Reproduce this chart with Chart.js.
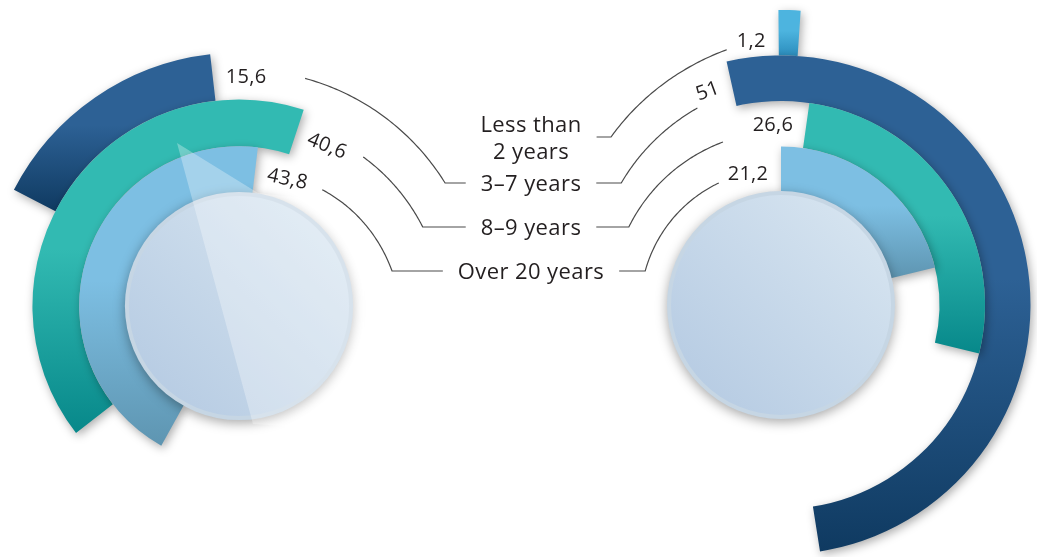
<!DOCTYPE html>
<html>
<head>
<meta charset="utf-8">
<script src="https://cdn.jsdelivr.net/npm/chart.js@4.4.0/dist/chart.umd.min.js"></script>
<style>
html, body { margin: 0; padding: 0; background: #fff; overflow: hidden; }
#wrap { position: relative; width: 1037px; height: 557px; }
#wrap canvas { position: absolute; left: 0; top: 0; }
</style>
</head>
<body>
<div id="wrap">
  <canvas id="leftChart" width="1037" height="557"></canvas>
  <canvas id="rightChart" width="1037" height="557"></canvas>
</div>
<script>
// categories, outermost ring first
var categories = [['Less than', '2 years'], ['3–7 years'], ['8–9 years'], ['Over 20 years']];
var leftValues = [null, 15.6, 40.6, 43.8];
var rightValues = [1.2, 51, 26.6, 21.2];

// where each arc starts, degrees clockwise from 12 o'clock
var leftStart = [0, 297.3, 232.1, 209.1];
var rightStart = [-0.5, -12.6, 8, 0];

// tilt of the value labels, degrees
var leftTilt = [0, 0, 22, 12];
var rightTilt = [0, -20, 0, 0];

// leader lines: [start angle, start radius, end radius]
var leftLinks = [null, [16.2, 237, 240], [39.8, 194, 200], [35.6, 143, 157]];
var rightLinks = [[-12, 261, 239], [-23, 214, 201], [-19.6, 173, 171], [-27, 137, 140]];

// middle column
var labelX = 531;
var labelY = [137, 183, 227, 271];

// [top colour, bottom colour] per category
var ringColors = [
  ['#4db4df', '#2b8dbd'],
  ['#2d6195', '#0f3a61'],
  ['#32bab2', '#07888a'],
  ['#7dbfe3', '#5e95b1']
];

var FONT = '"Open Sans", "Liberation Sans", sans-serif';
var rad = Math.PI / 180;

function arcGradient(context, starts) {
  var i = context.datasetIndex;
  if (context.dataIndex !== 0) return 'rgba(0,0,0,0)';
  var chart = context.chart;
  var col = ringColors[i];
  var ctrl = chart.getDatasetMeta(i).controller;
  var area = chart.chartArea;
  if (!area || !ctrl || !ctrl.outerRadius) return col[0];
  var cy = (area.top + area.bottom) / 2;
  var v = chart.data.datasets[i].data[0];
  var a0 = starts[i], a1 = a0 + v * 3.6;
  var minY = Infinity, maxY = -Infinity;
  for (var a = a0; a <= a1 + 0.5; a += 0.5) {
    var aa = Math.min(a, a1) * rad;
    [ctrl.innerRadius, ctrl.outerRadius].forEach(function (r) {
      var y = cy - r * Math.cos(aa);
      minY = Math.min(minY, y);
      maxY = Math.max(maxY, y);
    });
  }
  var g = chart.ctx.createLinearGradient(0, minY, 0, maxY);
  g.addColorStop(0, col[0]);
  g.addColorStop(0.45, col[0]);
  g.addColorStop(1, col[1]);
  return g;
}

var ringShadow = {
  id: 'ringShadow',
  beforeDatasetDraw: function (chart) {
    var ctx = chart.ctx;
    ctx.save();
    ctx.shadowColor = 'rgba(0,0,0,0.33)';
    ctx.shadowBlur = 10;
    ctx.shadowOffsetX = 2;
    ctx.shadowOffsetY = 3;
  },
  afterDatasetDraw: function (chart) {
    chart.ctx.restore();
  }
};

function centreOf(chart) {
  var a = chart.chartArea;
  return { x: (a.left + a.right) / 2, y: (a.top + a.bottom) / 2 };
}

// glassy disc in the hole
var centreDisc = {
  id: 'centreDisc',
  afterDatasetsDraw: function (chart, args, opts) {
    var ctx = chart.ctx;
    var c = centreOf(chart);
    var r = chart.getDatasetMeta(chart.data.datasets.length - 1).controller.innerRadius + 1;
    ctx.save();
    ctx.shadowColor = 'rgba(0,0,0,0.35)';
    ctx.shadowBlur = 12;
    ctx.shadowOffsetY = 3;
    ctx.fillStyle = '#c6d6e4';
    ctx.beginPath();
    ctx.arc(c.x, c.y, r, 0, Math.PI * 2);
    ctx.fill();
    ctx.restore();

    var g = ctx.createLinearGradient(c.x - r, c.y + r, c.x + r, c.y - r);
    g.addColorStop(0, '#b2c8e1');
    g.addColorStop(1, '#dbe8f2');
    ctx.fillStyle = g;
    ctx.beginPath();
    ctx.arc(c.x, c.y, r - 4, 0, Math.PI * 2);
    ctx.fill();

    if (opts.glare) {
      ctx.save();
      ctx.fillStyle = 'rgba(255,255,255,0.3)';
      ctx.beginPath();
      ctx.moveTo(c.x - 62, c.y - 163);
      ctx.lineTo(c.x + 19, c.y - 113);
      ctx.lineTo(c.x + 125, c.y - 100);
      ctx.lineTo(c.x + 125, c.y + 125);
      ctx.lineTo(c.x + 14, c.y + 118);
      ctx.closePath();
      ctx.fill();
      ctx.restore();
    }
  }
};

function drawLink(ctx, c, link, y, xEnd, dir) {
  var a0 = link[0] * rad, r0 = link[1], r1 = link[2];
  var a1 = dir * Math.acos(Math.max(-1, Math.min(1, (c.y - y) / r1)));
  ctx.beginPath();
  for (var k = 0; k <= 60; k++) {
    var t = k / 60;
    var a = a0 + (a1 - a0) * t;
    var r = r0 + (r1 - r0) * t;
    var px = c.x + r * Math.sin(a), py = c.y - r * Math.cos(a);
    if (k === 0) ctx.moveTo(px, py); else ctx.lineTo(px, py);
  }
  ctx.lineTo(xEnd, y);
  ctx.stroke();
}

function catFont(ctx) {
  ctx.font = '22px ' + FONT;
  ctx.letterSpacing = '0.4px';
}

// value labels, leader lines and (once) the category column
var ringLabels = {
  id: 'ringLabels',
  afterDraw: function (chart, args, opts) {
    var ctx = chart.ctx;
    var c = centreOf(chart);
    var dir = opts.dir;
    ctx.save();
    ctx.fillStyle = '#231f20';
    ctx.strokeStyle = '#4a4a4a';
    ctx.lineWidth = 1.2;
    ctx.textAlign = 'center';
    ctx.textBaseline = 'middle';

    opts.values.forEach(function (v, i) {
      if (v == null) return;
      ctx.font = '20px ' + FONT;
      ctx.letterSpacing = '0.3px';
      var ctrl = chart.getDatasetMeta(i).controller;
      var mid = (ctrl.innerRadius + ctrl.outerRadius) / 2 - (i === 0 ? 6 : 0);
      var text = String(v).replace('.', ',');
      var w = ctx.measureText(text).width;
      var edge = dir > 0 ? opts.starts[i] + v * 3.6 : opts.starts[i];
      var ang = (edge + dir * ((w / 2 + 13) / mid) / rad) * rad;
      ctx.save();
      ctx.translate(c.x + mid * Math.sin(ang), c.y - mid * Math.cos(ang) + 1);
      ctx.rotate(opts.tilt[i] * rad);
      ctx.fillText(text, 0, 0);
      ctx.restore();

      catFont(ctx);
      var wCat = Math.max.apply(null, categories[i].map(function (s) { return ctx.measureText(s).width; }));
      var xEnd = labelX - dir * (wCat / 2 + 15);
      drawLink(ctx, c, opts.links[i], labelY[i], xEnd, dir);
    });

    if (opts.categories) {
      catFont(ctx);
      categories.forEach(function (lines, i) {
        var y0 = labelY[i] + 2 - (lines.length - 1) * 13.5;
        lines.forEach(function (s, k) {
          ctx.fillText(s, labelX, y0 + k * 27);
        });
      });
    }
    ctx.restore();
  }
};

function ringChart(id, values, starts, radius, cutout, padding, labelOpts, glare) {
  return new Chart(document.getElementById(id), {
    type: 'doughnut',
    data: {
      labels: ['value', 'rest'],
      datasets: values.map(function (v, i) {
        return {
          label: categories[i].join(' '),
          data: [v || 0, 100 - (v || 0)],
          rotation: starts[i],
          order: values.length - i,
          borderWidth: 0,
          backgroundColor: function (ctx) { return arcGradient(ctx, starts); }
        };
      })
    },
    options: {
      responsive: false,
      animation: false,
      events: [],
      radius: radius,
      cutout: cutout,
      layout: { padding: padding },
      plugins: {
        legend: { display: false },
        tooltip: { enabled: false },
        centreDisc: { glare: glare },
        ringLabels: labelOpts
      }
    },
    plugins: [ringShadow, centreDisc, ringLabels]
  });
}

ringChart('leftChart', leftValues, leftStart, 300, '37.7%',
  { left: 0, right: 559, top: 55, bottom: 0 },
  { values: leftValues, starts: leftStart, tilt: leftTilt, links: leftLinks, dir: 1, categories: false },
  true);

ringChart('rightChart', rightValues, rightStart, 295, '38.3%',
  { left: 525, right: 0, top: 53, bottom: 0 },
  { values: rightValues, starts: rightStart, tilt: rightTilt, links: rightLinks, dir: -1, categories: true },
  false);
</script>
</body>
</html>
